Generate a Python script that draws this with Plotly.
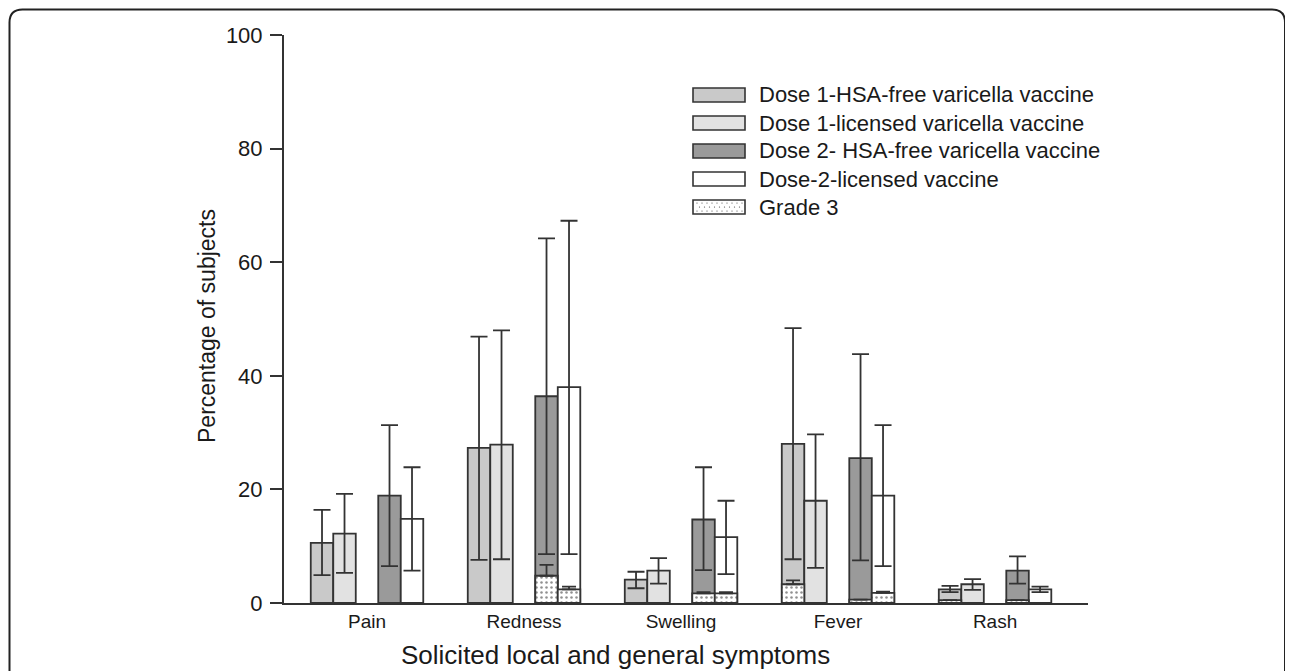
import plotly.graph_objects as go

# ---------------- data ----------------
categories = ["Pain", "Redness", "Swelling", "Fever", "Rash"]

series_names = [
    "Dose 1-HSA-free varicella vaccine",
    "Dose 1-licensed varicella vaccine",
    "Dose 2- HSA-free varicella vaccine",
    "Dose-2-licensed vaccine",
]
grade3_name = "Grade 3"

d1_hsa = [10.6, 27.3, 4.1, 28.0, 2.4]
d1_hsa_hi = [16.4, 46.9, 5.5, 48.4, 3.0]
d1_hsa_lo = [4.9, 7.6, 2.6, 7.7, 1.9]

d1_lic = [12.2, 27.9, 5.7, 18.0, 3.3]
d1_lic_hi = [19.2, 48.0, 7.9, 29.7, 4.2]
d1_lic_lo = [5.3, 7.7, 3.4, 6.2, 2.3]

d2_hsa = [18.9, 36.4, 14.7, 25.5, 5.7]
d2_hsa_hi = [31.3, 64.2, 23.9, 43.8, 8.2]
d2_hsa_lo = [6.5, 8.6, 5.8, 7.5, 3.4]

d2_lic = [14.8, 38.0, 11.6, 18.9, 2.4]
d2_lic_hi = [23.9, 67.3, 18.0, 31.3, 2.9]
d2_lic_lo = [5.7, 8.6, 5.1, 6.5, 1.9]

# Grade 3 portions (0 = none) and their upper CI bounds
g3_d1_hsa = [0, 0, 0, 3.3, 0.5]
g3_d1_hsa_hi = [0, 0, 0, 4.0, 0.5]
g3_d1_lic = [0, 0, 0, 0, 0]
g3_d1_lic_hi = [0, 0, 0, 0, 0]
g3_d2_hsa = [0, 4.8, 1.7, 0.6, 0.5]
g3_d2_hsa_hi = [0, 6.7, 1.9, 0.6, 0.5]
g3_d2_lic = [0, 2.4, 1.7, 1.8, 0]
g3_d2_lic_hi = [0, 2.9, 1.9, 2.0, 0]

y_ticks = [0, 20, 40, 60, 80, 100]
x_title = "Solicited local and general symptoms"
y_title = "Percentage of subjects"

# ---------------- styling / layout constants ----------------
BAR_W = 0.1433
offsets = [-2 * BAR_W, -1 * BAR_W, 1 * BAR_W, 2 * BAR_W]
fills = ["#c9c9c9", "#e2e2e2", "#9a9a9a", "#ffffff"]
LINE = "#333333"
TXT = "#1a1a1a"
FONT = "Liberation Sans, Arial, sans-serif"

values = [d1_hsa, d1_lic, d2_hsa, d2_lic]
his = [d1_hsa_hi, d1_lic_hi, d2_hsa_hi, d2_lic_hi]
los = [d1_hsa_lo, d1_lic_lo, d2_hsa_lo, d2_lic_lo]
g3 = [g3_d1_hsa, g3_d1_lic, g3_d2_hsa, g3_d2_lic]
g3hi = [g3_d1_hsa_hi, g3_d1_lic_hi, g3_d2_hsa_hi, g3_d2_lic_hi]

fig = go.Figure()

for s in range(4):
    xs = [i + offsets[s] for i in range(len(categories))]
    fig.add_trace(go.Bar(
        x=xs, y=values[s], width=BAR_W, name=series_names[s],
        marker=dict(color=fills[s], line=dict(color=LINE, width=1.8)),
        error_y=dict(type="data", symmetric=False,
                     array=[h - v for h, v in zip(his[s], values[s])],
                     arrayminus=[v - l for v, l in zip(values[s], los[s])],
                     color=LINE, thickness=1.8, width=8.5),
        hoverinfo="skip", showlegend=False,
    ))

gx, gy, gplus = [], [], []
for s in range(4):
    for i in range(len(categories)):
        if g3[s][i] > 0:
            gx.append(i + offsets[s])
            gy.append(g3[s][i])
            gplus.append(g3hi[s][i] - g3[s][i])

fig.add_trace(go.Bar(
    x=gx, y=gy, width=BAR_W, name=grade3_name,
    marker=dict(color="white", line=dict(color=LINE, width=1.8),
                pattern=dict(shape=".", fgcolor="#222222", bgcolor="white",
                             size=5, solidity=0.2)),
    error_y=dict(type="data", symmetric=False, array=gplus,
                 arrayminus=[0] * len(gplus), color=LINE, thickness=1.8, width=7),
    hoverinfo="skip", showlegend=False,
))

# figure sits 8px into the page (body margin); coordinates below are figure px
W, H = 1285, 663
ML, MR, MT, MB = 276, 205, 27, 68
PW, PH = W - ML - MR, H - MT - MB
def px(x):
    return (x - ML) / PW
def py(y):
    return (H - MB - y) / PH

shapes = []
annotations = []

# rounded frame around the whole figure
x0, x1, yt, yb = px(1.5), px(1277), py(1.5), py(720)
rx, ry = 13 / PW, 13 / PH
frame = (f"M {x0+rx},{yt} L {x1-rx},{yt} Q {x1},{yt} {x1},{yt-ry} "
         f"L {x1},{yb} M {x0},{yb} L {x0},{yt-ry} Q {x0},{yt} {x0+rx},{yt}")
shapes.append(dict(type="path", xref="paper", yref="paper", path=frame,
                   line=dict(color="#222222", width=2), layer="above"))

# legend drawn with wide swatches like the reference
LEG_X0, LEG_X1, LEG_TXT = 685, 737, 749
LEG_Y0, LEG_DY, SW_H = 87, 28, 14
legend_labels = series_names + [grade3_name]
legend_fills = fills + ["white"]
for k, (lab, fc) in enumerate(zip(legend_labels, legend_fills)):
    cy = LEG_Y0 + k * LEG_DY
    shapes.append(dict(type="rect", xref="paper", yref="paper",
                       x0=px(LEG_X0), x1=px(LEG_X1),
                       y0=py(cy - SW_H / 2), y1=py(cy + SW_H / 2),
                       fillcolor=fc, line=dict(color=LINE, width=1.6)))
    annotations.append(dict(text=lab, xref="paper", yref="paper",
                            x=px(LEG_TXT), y=py(cy), xanchor="left",
                            yanchor="middle", showarrow=False,
                            font=dict(size=22, family=FONT, color=TXT)))
# dotted texture for the Grade 3 swatch
cy = LEG_Y0 + 4 * LEG_DY
for r in range(3):
    for c in range(10):
        dx = LEG_X0 + 4 + c * 5 + (2.5 if r % 2 else 0)
        dy = cy - 4 + r * 4
        if dx > LEG_X1 - 3:
            continue
        shapes.append(dict(type="circle", xref="paper", yref="paper",
                           x0=px(dx - 0.6), x1=px(dx + 0.6),
                           y0=py(dy + 0.6), y1=py(dy - 0.6),
                           fillcolor="#444444", line=dict(width=0)))

# axis titles
annotations.append(dict(text=x_title, xref="paper", yref="paper",
                        x=px(607), y=py(647), xanchor="center", yanchor="middle",
                        showarrow=False, font=dict(size=26, family=FONT, color=TXT)))
annotations.append(dict(text=y_title, xref="paper", yref="paper",
                        x=px(199), y=py(318), xanchor="center", yanchor="middle",
                        textangle=-90, showarrow=False,
                        font=dict(size=23, family=FONT, color=TXT)))

fig.update_layout(
    width=W, height=H,
    margin=dict(l=ML, r=MR, t=MT, b=MB, autoexpand=False),
    paper_bgcolor="white", plot_bgcolor="white",
    barmode="overlay",
    font=dict(family=FONT, color=TXT, size=19),
    showlegend=False,
    xaxis=dict(range=[-0.5287, 4.592], tickvals=list(range(len(categories))),
               ticktext=categories, showgrid=False, zeroline=False,
               showline=True, linecolor=LINE, linewidth=2, ticks="",
               tickfont=dict(size=19), fixedrange=True),
    yaxis=dict(range=[0, 100], tickvals=y_ticks, showgrid=False, zeroline=False,
               showline=True, linecolor=LINE, linewidth=2, ticks="outside",
               ticklen=12, tickwidth=2, tickcolor=LINE, tickfont=dict(size=22),
               ticklabelstandoff=3),
    annotations=annotations,
    shapes=shapes,
)

fig.write_html("out.html")
